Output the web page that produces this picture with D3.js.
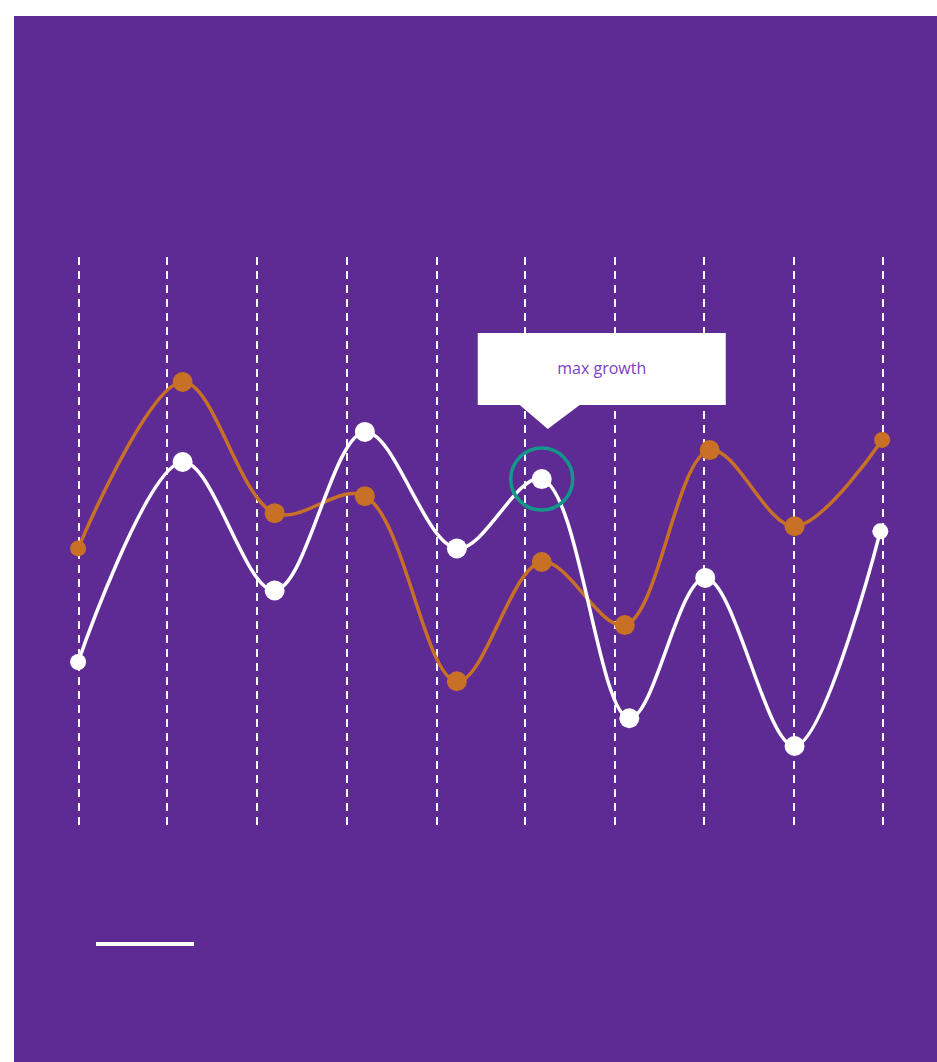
<!DOCTYPE html>
<html>
<head>
<meta charset="utf-8">
<script src="https://cdn.jsdelivr.net/npm/d3@7"></script>
<style>
  body { margin: 0; background: #fff; }
  svg { display: block; }
</style>
</head>
<body>
<svg id="chart" width="937" height="1062"></svg>
<script>
// gridline positions (in x units) and series values
const gridTicks = [0, 0.985, 1.99, 3, 4.005, 4.99, 5.995, 7.0, 8.005, 9];

const whiteX = [-0.01, 1.16, 2.19, 3.2, 4.23, 5.18, 6.16, 7.01, 8.01, 8.97];
const whiteY = [28.7, 63.9, 41.3, 69.2, 48.7, 60.9, 18.8, 43.5, 13.9, 51.7];

const orangeX = [-0.01, 1.16, 2.19, 3.2, 4.23, 5.18, 6.11, 7.06, 8.01, 8.99];
const orangeY = [48.7, 78.0, 54.9, 57.9, 25.3, 46.3, 35.2, 66.0, 52.6, 67.8];

const maxIndex = 5;          // point highlighted in the white series
const calloutText = "max growth";

const svg = d3.select("#chart");

svg.append("rect")
  .attr("x", 14).attr("y", 16)
  .attr("width", 923).attr("height", 1046)
  .attr("fill", "#5E2B94");

const x = d3.scaleLinear().domain([0, 9]).range([79, 883]);
const y = d3.scaleLinear().domain([0, 100]).range([825, 257]);

// dashed vertical grid
svg.append("g")
  .selectAll("line")
  .data(gridTicks)
  .join("line")
  .attr("x1", d => Math.round(x(d))).attr("x2", d => Math.round(x(d)))
  .attr("y1", y(100)).attr("y2", y(0))
  .attr("stroke", "#fff")
  .attr("stroke-width", 2)
  .attr("stroke-dasharray", "8,6");

const series = [
  { xs: orangeX, ys: orangeY, color: "#C87026" },
  { xs: whiteX, ys: whiteY, color: "#ffffff" }
];

const line = d3.line()
  .x(d => x(d[0]))
  .y(d => y(d[1]))
  .curve(d3.curveCatmullRom.alpha(0.5));

series.forEach(s => {
  const pts = s.xs.map((v, i) => [v, s.ys[i]]);
  svg.append("path")
    .datum(pts)
    .attr("d", line)
    .attr("fill", "none")
    .attr("stroke", s.color)
    .attr("stroke-width", 3.5);

  svg.append("g")
    .selectAll("circle")
    .data(pts)
    .join("circle")
    .attr("cx", d => x(d[0]))
    .attr("cy", d => y(d[1]))
    .attr("r", (d, i) => (i === 0 || i === pts.length - 1) ? 8 : 10)
    .attr("fill", s.color);
});

// highlight ring + callout
const hx = x(whiteX[maxIndex]);
const hy = y(whiteY[maxIndex]);

svg.append("circle")
  .attr("cx", hx).attr("cy", hy).attr("r", 31)
  .attr("fill", "none")
  .attr("stroke", "#12978A")
  .attr("stroke-width", 3.5);

const boxX = hx - 64, boxY = hy - 146, boxW = 248, boxH = 72;
const tipX = hx + 6;
svg.append("path")
  .attr("d", `M${boxX},${boxY}h${boxW}v${boxH}H${tipX + 32}L${tipX},${boxY + boxH + 24}L${tipX - 28},${boxY + boxH}H${boxX}Z`)
  .attr("fill", "#fff");

svg.append("text")
  .attr("x", boxX + boxW / 2)
  .attr("y", boxY + boxH / 2 + 5)
  .attr("text-anchor", "middle")
  .attr("font-family", "'Open Sans', sans-serif")
  .attr("font-size", 16)
  .attr("fill", "#7B3FC6")
  .text(calloutText);

// legend swatch
svg.append("line")
  .attr("x1", 96).attr("x2", 194)
  .attr("y1", 944).attr("y2", 944)
  .attr("stroke", "#fff")
  .attr("stroke-width", 4);
</script>
</body>
</html>
